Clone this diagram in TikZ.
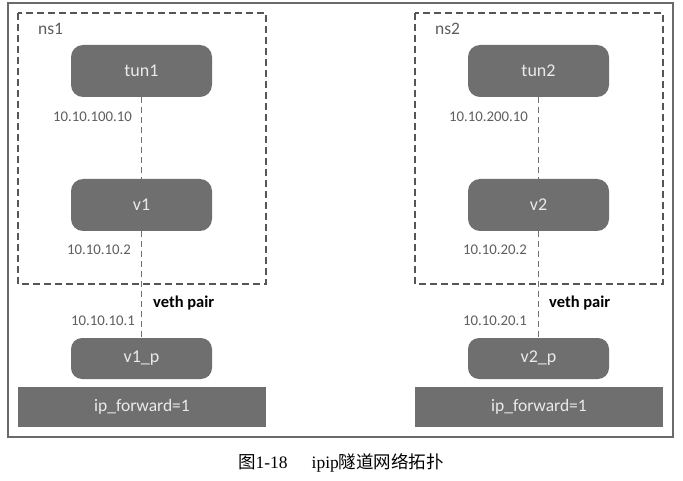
\documentclass[tikz,border=0pt]{standalone}
\usepackage{fontspec}
\setmainfont{Carlito}
\newfontfamily\cjk{Noto Sans CJK SC}
\newfontfamily\capfont{Liberation Serif}
\begin{document}
\begin{tikzpicture}[x=1pt,y=-1pt]
\definecolor{boxgray}{HTML}{6F6F6F}
\definecolor{boxtext}{HTML}{EAEAEA}
\definecolor{labgray}{HTML}{5E5E5E}
\definecolor{framegray}{HTML}{6A6A6A}
\definecolor{nsgray}{HTML}{555555}
\definecolor{linkgray}{HTML}{707070}
\tikzset{
  dev/.style={fill=boxgray, draw=none, rounded corners=12pt, minimum width=141pt, minimum height=52pt, text=boxtext, font=\fontsize{18}{20}\selectfont, inner sep=0pt},
  devsmall/.style={dev, minimum height=41pt, rounded corners=11pt},
  fwd/.style={fill=boxgray, draw=none, minimum width=248pt, minimum height=40pt, text=boxtext, font=\fontsize{17.5}{20}\selectfont, inner sep=0pt},
  iplabel/.style={anchor=east, inner sep=0pt, text=labgray, font=\fontsize{14.8}{16}\selectfont},
  vethlabel/.style={anchor=west, inner sep=0pt, text=black, font=\bfseries\fontsize{16.5}{18}\selectfont},
  nslabel/.style={anchor=west, inner sep=0pt, text=labgray, font=\fontsize{17.5}{19}\selectfont},
  nsbox/.style={draw=nsgray, line width=1.3pt, dash pattern=on 7pt off 4pt},
  link/.style={draw=linkgray, line width=1.1pt, dash pattern=on 6pt off 4pt}
}
\useasboundingbox (0,0) rectangle (683,481);
\fill[white] (0,0) rectangle (683,481);
% outer frame
\draw[framegray, line width=1.5pt] (8,3) rectangle (673,437);
% namespace boxes
\draw[nsbox] (18,13) rectangle (266,284);
\draw[nsbox] (415,13) rectangle (663,284);
\node[nslabel] (ns1) at (38,29) {ns1};
\node[nslabel] (ns2) at (435,29) {ns2};
% left side
\node[dev] (tun1) at (141.5,71) {tun1};
\node[dev] (v1) at (141.5,205) {v1};
\node[devsmall] (v1p) at (141.5,358.5) {v1\_p};
\node[fwd] (ipf1) at (142,407) {ip\_forward=1};
\draw[link] (tun1.south) -- (v1.north);
\draw[link] (v1.south) -- (v1p.north);
\node[iplabel] (l1a) at (132,117) {10.10.100.10};
\node[iplabel] (l1b) at (131,250) {10.10.10.2};
\node[iplabel] (l1c) at (135,321) {10.10.10.1};
\node[vethlabel] (veth1) at (153,303) {veth pair};
% right side
\node[dev] (tun2) at (538.5,71) {tun2};
\node[dev] (v2) at (538.5,205) {v2};
\node[devsmall] (v2p) at (538.5,358.5) {v2\_p};
\node[fwd] (ipf2) at (539,407) {ip\_forward=1};
\draw[link] (tun2.south) -- (v2.north);
\draw[link] (v2.south) -- (v2p.north);
\node[iplabel] (l2a) at (528,117) {10.10.200.10};
\node[iplabel] (l2b) at (527,250) {10.10.20.2};
\node[iplabel] (l2c) at (527,321) {10.10.20.1};
\node[vethlabel] (veth2) at (549,303) {veth pair};
% caption
\node[inner sep=0pt, font=\fontsize{17.5}{20}\selectfont] (caption) at (341,463) {{\cjk 图}{\capfont 1-18\hspace{24pt}ipip}{\cjk 隧道网络拓扑}};
\end{tikzpicture}
\end{document}
